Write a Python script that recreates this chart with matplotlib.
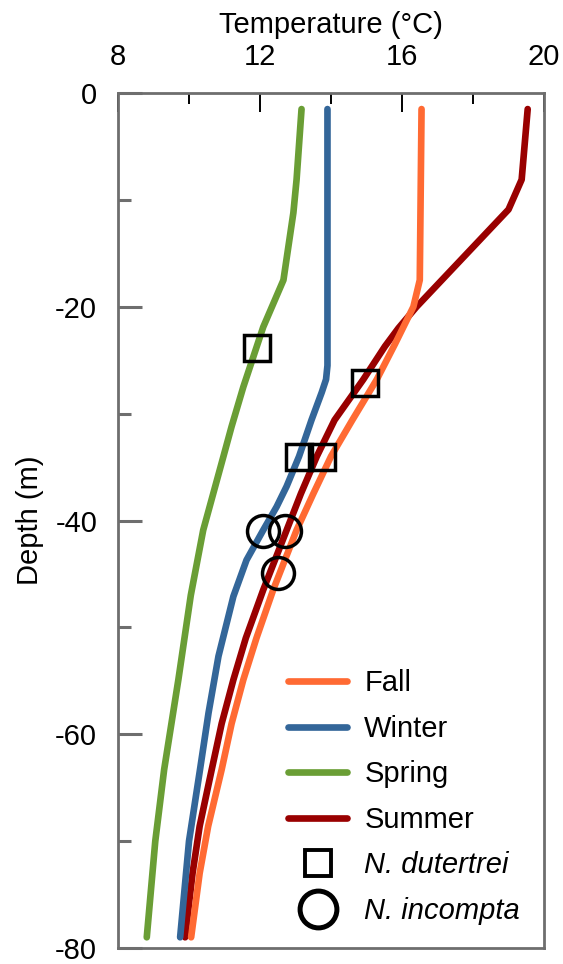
import numpy as np
import matplotlib
matplotlib.use("Agg")
import matplotlib.pyplot as plt
from matplotlib.lines import Line2D

plt.rcParams['font.family'] = ['Liberation Sans', 'DejaVu Sans']
plt.rcParams['axes.unicode_minus'] = False

# seasonal temperature profiles (temperature in degC, depth in m)
fall_depth = [-1.5, -17.5, -20, -23.5, -26.8, -30.6, -34, -37.5, -40.9, -46.5,
              -51, -54.9, -59, -63.3, -68.6, -73, -79]
fall_temp = [16.55, 16.5, 16.32, 15.8, 15.29, 14.6, 14.0, 13.5, 13.03, 12.37,
             11.9, 11.53, 11.2, 10.92, 10.54, 10.3, 10.06]

winter_depth = [-1.5, -25.5, -26.8, -28, -30.6, -34, -36.8, -38.7, -40.9, -43.7, -47.1,
                -52.7, -58, -63.3, -70, -79]
winter_temp = [13.9, 13.9, 13.86, 13.74, 13.45, 13.1, 12.75, 12.47, 12.09, 11.62, 11.25,
               10.83, 10.55, 10.31, 10.0, 9.75]

spring_depth = [-1.5, -8.1, -11.2, -17.5, -21.9, -27.5, -31.2, -34, -40.9, -47,
                -54.9, -63.3, -70, -79]
spring_temp = [13.17, 13.03, 12.94, 12.66, 12.09, 11.53, 11.2, 10.97, 10.4, 10.05,
               9.7, 9.3, 9.05, 8.81]

summer_depth = [-1.5, -8.1, -10.9, -20, -22, -23.7, -26.8, -30.6, -34, -37.5, -40.9,
                -46.5, -51, -54.9, -59, -63.3, -68.6, -73, -79]
summer_temp = [19.54, 19.37, 19.0, 16.41, 15.9, 15.52, 14.91, 14.1, 13.6, 13.15, 12.75,
               12.09, 11.6, 11.25, 10.92, 10.64, 10.3, 10.1, 9.89]

# calcification depths of the two species
dutertrei_temp = [11.92, 14.97, 13.1, 13.76]
dutertrei_depth = [-23.9, -27.1, -34.1, -34.1]
incompta_temp = [12.09, 12.7, 12.52]
incompta_depth = [-41.0, -41.0, -44.9]

c_fall = '#ff6a33'
c_winter = '#336699'
c_spring = '#6a9e35'
c_summer = '#990000'

fig = plt.figure(figsize=(5.63, 9.64), dpi=100)
ax = fig.add_axes([0.2096, 0.0166, 0.7567, 0.8869])

lw = 4.8
ax.plot(summer_temp, summer_depth, color=c_summer, lw=lw, solid_capstyle='round', zorder=2)
ax.plot(fall_temp, fall_depth, color=c_fall, lw=lw, solid_capstyle='round', zorder=3)
ax.plot(winter_temp, winter_depth, color=c_winter, lw=lw, solid_capstyle='round', zorder=2)
ax.plot(spring_temp, spring_depth, color=c_spring, lw=lw, solid_capstyle='round', zorder=2)

ax.plot(dutertrei_temp, dutertrei_depth, ls='none', marker='s', ms=19,
        mfc='none', mec='black', mew=2.5, zorder=5)
ax.plot(incompta_temp, incompta_depth, ls='none', marker='o', ms=23,
        mfc='none', mec='black', mew=2.5, zorder=5)

ax.set_xlim(8, 20)
ax.set_ylim(-80, 0)
ax.xaxis.set_ticks_position('top')
ax.xaxis.set_label_position('top')
ax.set_xticks([8, 12, 16, 20])
ax.set_xticks([10, 14, 18], minor=True)
ax.set_yticks([0, -20, -40, -60, -80])
ax.set_yticks([-10, -30, -50, -70], minor=True)

ax.tick_params(axis='x', which='major', direction='in', length=14, width=1.4,
               color='black', labelsize=21, pad=16)
ax.tick_params(axis='x', which='minor', direction='in', length=8, width=1.4, color='black')
ax.tick_params(axis='y', which='major', direction='in', length=17, width=2.2,
               color='#6e6e6e', labelsize=21, pad=15)
ax.tick_params(axis='y', which='minor', direction='in', length=9, width=2.2, color='#6e6e6e')

for s in ax.spines.values():
    s.set_color('#6e6e6e')
    s.set_linewidth(2)

ax.set_xlabel('Temperature (°C)', fontsize=21, labelpad=7)
ax.set_ylabel('Depth (m)', fontsize=21, labelpad=8)

handles = [
    Line2D([], [], color=c_fall, lw=lw, solid_capstyle='round'),
    Line2D([], [], color=c_winter, lw=lw, solid_capstyle='round'),
    Line2D([], [], color=c_spring, lw=lw, solid_capstyle='round'),
    Line2D([], [], color=c_summer, lw=lw, solid_capstyle='round'),
    Line2D([], [], ls='none', marker='s', ms=19, mfc='none', mec='black', mew=2.8),
    Line2D([], [], ls='none', marker='o', ms=26.5, mfc='none', mec='black', mew=3.6),
]
labels = ['Fall', 'Winter', 'Spring', 'Summer', 'N. dutertrei', 'N. incompta']
leg = ax.legend(handles, labels, loc='upper left', bbox_to_anchor=(0.40, 0.326),
                frameon=False, fontsize=21, handlelength=2.0, handletextpad=0.6,
                labelspacing=0.6, borderpad=0, borderaxespad=0)
for t in leg.get_texts()[4:]:
    t.set_style('italic')

fig.savefig('out.png', dpi=100)
